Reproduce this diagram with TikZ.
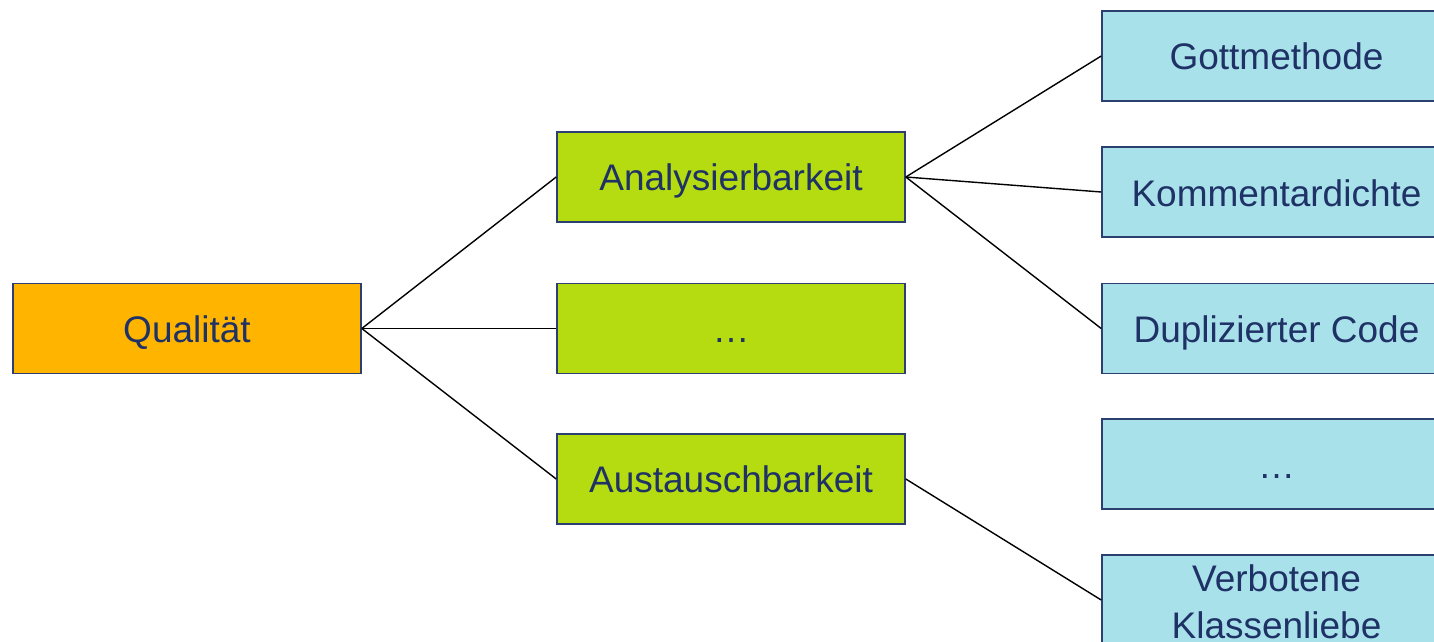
\documentclass[tikz,border=0pt]{standalone}
\usepackage{fontspec}
\setmainfont{Liberation Sans}
\definecolor{qorange}{HTML}{FFB400}
\definecolor{qgreen}{HTML}{B5DC10}
\definecolor{qblue}{HTML}{A9E1EB}
\definecolor{qborder}{HTML}{2B4070}
\definecolor{qtext}{HTML}{1F3266}
\begin{document}
\begin{tikzpicture}[x=1pt,y=-1pt,
  lbl/.style={text=qtext, inner sep=0pt, font=\fontsize{37}{43}\selectfont},
  box/.style={lbl, draw=qborder, line width=1.6pt, minimum width=348pt, minimum height=90pt,
    text height=27pt, text depth=0pt},
  root/.style={box, fill=qorange},
  mid/.style={box, fill=qgreen},
  leaf/.style={box, fill=qblue, minimum width=340pt},
  link/.style={draw=black, line width=1.4pt}]
\useasboundingbox (0,0) rectangle (1434,642);
\clip (0,0) rectangle (1434,642);
\node[root] (q) at (187,328.5) {Qualität};
\node[mid] (a) at (731,177) {Analysierbarkeit};
\node[mid] (d) at (731,328.5) {…};
\node[mid] (u) at (731,479) {Austauschbarkeit};
\node[leaf] (g) at (1272,56) {};
\node[lbl, anchor=base] (gt) at (1276.5,70) {Gottmethode};
\node[leaf] (k) at (1272,192) {};
\node[lbl, anchor=base] (kt) at (1276.5,206) {Kommentardichte};
\node[leaf] (c) at (1272,328.5) {};
\node[lbl, anchor=base] (ct) at (1276.5,342) {Duplizierter Code};
\node[leaf] (e) at (1272,464) {};
\node[lbl, anchor=base] (et) at (1276.5,478) {…};
\node[leaf] (v) at (1272,600) {};
\node[lbl, anchor=base] (vt1) at (1276.5,591) {Verbotene};
\node[lbl, anchor=base] (vt2) at (1276.5,638) {Klassenliebe};
\draw[link] (q.east) -- (a.west);
\draw[link] (q.east) -- (d.west);
\draw[link] (q.east) -- (u.west);
\draw[link] (a.east) -- (g.west);
\draw[link] (a.east) -- (k.west);
\draw[link] (a.east) -- (c.west);
\draw[link] (u.east) -- (v.west);
\end{tikzpicture}
\end{document}
